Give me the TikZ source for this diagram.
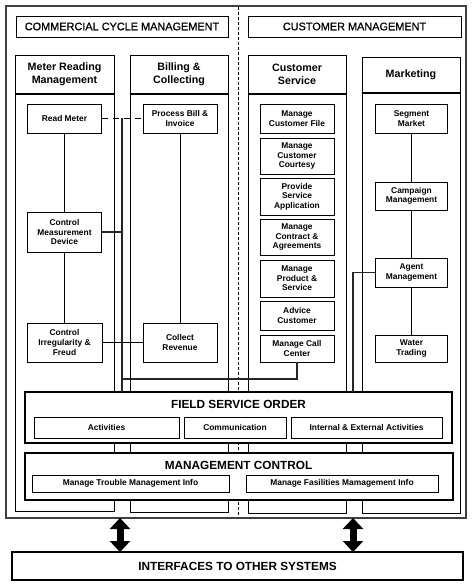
\documentclass[tikz,border=0pt]{standalone}
\usepackage{fontspec}
\setmainfont{Liberation Sans}
\newfontfamily\titlefont{Liberation Sans}[BoldFont={Liberation Sans}, BoldFeatures={FakeBold=0.8}]
\usetikzlibrary{arrows.meta}
\begin{document}
\begin{tikzpicture}[x=1pt,y=-1pt,
  every node/.style={inner sep=0pt, outer sep=0pt},
  sbox/.style={draw, line width=0.8pt, fill=white, align=center, font=\fontsize{8.4}{9.6}\selectfont\bfseries},
  colhead/.style={draw, line width=0.8pt, align=center, font=\fontsize{10.7}{13.3}\selectfont\bfseries},
  colbody/.style={draw, line width=0.8pt},
  titlebox/.style={draw, line width=0.8pt, font=\fontsize{10.9}{13}\titlefont\bfseries},
  bigbox/.style={draw, line width=1.8pt, fill=white},
  bigtitle/.style={font=\fontsize{11.8}{14}\selectfont\bfseries},
  link/.style={line width=0.8pt},
  dashlink/.style={line width=1.2pt, dash pattern=on 6pt off 5pt},
  bus/.style={line width=1.4pt, draw=black!85},
  sep/.style={line width=1.5pt},
  bigarrow/.style={line width=7pt, {Triangle[width=20pt,length=11pt]}-{Triangle[width=20pt,length=11pt]}}
]
\useasboundingbox (0,0) rectangle (474,588);
\fill[white] (0,0) rectangle (474,588);

% outer frame and divider
\node[draw=black!75, line width=2pt, minimum width=460pt, minimum height=512pt] (outer) at (236,262) {};
\coordinate (dtop) at (238,7);
\coordinate (dbot) at (238,517);
\draw[line width=0.7pt, dash pattern=on 3pt off 2pt] (dtop) -- (dbot);

% titles
\node[titlebox, minimum width=212pt, minimum height=21pt] (ccm) at (122,26.5) {COMMERCIAL CYCLE MANAGEMENT};
\node[titlebox, minimum width=213pt, minimum height=21pt] (cmg) at (354.5,26.5) {CUSTOMER MANAGEMENT};

% columns
\node[colbody, minimum width=99pt, minimum height=417pt] (mrB) at (64.5,302.5) {};
\node[colhead, minimum width=99pt, minimum height=39pt] (mrH) at (64.5,74.5) {Meter Reading\\Management};
\node[colbody, minimum width=98pt, minimum height=418pt] (bcB) at (179,303) {};
\node[colhead, minimum width=98pt, minimum height=39pt] (bcH) at (179,74.5) {Billing \&\\Collecting};
\node[colbody, minimum width=98pt, minimum height=419pt] (csB) at (297,303.5) {};
\node[colhead, minimum width=98pt, minimum height=39pt] (csH) at (297,74.5) {Customer\\Service};
\node[colbody, minimum width=98pt, minimum height=420pt] (mkB) at (411,303) {};
\node[colhead, minimum width=98pt, minimum height=36pt] (mkH) at (411,75) {Marketing};
\draw[sep] (mrH.south west) -- (mrH.south east);
\draw[sep] (bcH.south west) -- (bcH.south east);
\draw[sep] (csH.south west) -- (csH.south east);
\draw[sep] (mkH.south west) -- (mkH.south east);

% meter reading
\node[sbox, minimum width=74pt, minimum height=29pt] (rm) at (64.5,118.5) {Read Meter};
\node[sbox, minimum width=74pt, minimum height=40pt] (cmd) at (64.5,232) {Control\\Measurement\\Device};
\node[sbox, minimum width=75pt, minimum height=39pt] (cir) at (64.5,342.5) {Control\\Irregularity \&\\Freud};
% billing
\node[sbox, minimum width=74pt, minimum height=29pt] (pb) at (180,118.5) {Process Bill \&\\Invoice};
\node[sbox, minimum width=74pt, minimum height=39pt] (cr) at (180,342.5) {Collect\\Revenue};
% customer service
\node[sbox, minimum width=74pt, minimum height=29pt] (mcf) at (297,118.5) {Manage\\Customer File};
\node[sbox, minimum width=74pt, minimum height=36pt] (mcc) at (297,156) {Manage\\Customer\\Courtesy};
\node[sbox, minimum width=74pt, minimum height=37pt] (psa) at (297,196.5) {Provide\\Service\\Application};
\node[sbox, minimum width=74pt, minimum height=36pt] (mca) at (297,237) {Manage\\Contract \&\\Agreements};
\node[sbox, minimum width=74pt, minimum height=37pt] (mps) at (297,278.5) {Manage\\Product \&\\Service};
\node[sbox, minimum width=74pt, minimum height=29pt] (adv) at (297,315.5) {Advice\\Customer};
\node[sbox, minimum width=74pt, minimum height=27pt] (mcall) at (297,348.5) {Manage Call\\Center};
% marketing
\node[sbox, minimum width=72pt, minimum height=29pt] (sm) at (411.5,118.5) {Segment\\Market};
\node[sbox, minimum width=72pt, minimum height=28pt] (cm) at (411.5,196) {Campaign\\Management};
\node[sbox, minimum width=72pt, minimum height=29pt] (am) at (411.5,272.5) {Agent\\Management};
\node[sbox, minimum width=72pt, minimum height=27pt] (wt) at (411.5,348.5) {Water\\Trading};

% field service order
\node[bigbox, minimum width=427pt, minimum height=51pt] (fso) at (238.5,417.5) {};
\node[bigtitle] (fsoT) at (238.5,404) {FIELD SERVICE ORDER};
\node[sbox, minimum width=145pt, minimum height=21pt] (act) at (106.5,427.5) {Activities};
\node[sbox, minimum width=102pt, minimum height=21pt] (com) at (235,427.5) {Communication};
\node[sbox, minimum width=151pt, minimum height=21pt] (iea) at (366.5,427.5) {Internal \& External Activities};

% management control
\node[bigbox, minimum width=428pt, minimum height=47pt] (mc) at (239,476.5) {};
\node[bigtitle] (mcT) at (238.5,465) {MANAGEMENT CONTROL};
\node[sbox, minimum width=197pt, minimum height=17pt] (mtm) at (130.5,483.5) {Manage Trouble Management Info};
\node[sbox, minimum width=192pt, minimum height=17pt] (mfm) at (342,483.5) {Manage Fasilities Mamagement Info};

% connectors
\draw[link] (rm.south) -- (cmd.north);
\draw[link] (cmd.south) -- (cir.north);
\draw[link] (pb.south) -- (cr.north);
\draw[link] (cir.east) -- (cr.west);
\draw[dashlink] (rm.east) -- (pb.west);
\coordinate (busx) at (122,0);
\coordinate (busy) at (0,379);
\draw[bus] (rm.east -| busx) -- (fso.north -| busx);
\draw[bus] (cmd.east) -- (cmd.east -| busx);
\draw[bus] (busx |- busy) -| (mcall.south);
\draw[link] (sm.south) -- (cm.north);
\draw[link] (cm.south) -- (am.north);
\draw[link] (am.south) -- (wt.north);
\coordinate (mkx) at (353,0);
\draw[bus] (am.west) -| (fso.north -| mkx);

% interfaces
\node[bigbox, minimum width=451pt, minimum height=28pt, bigtitle] (ifc) at (237.5,566) {INTERFACES TO OTHER SYSTEMS};
\coordinate (ax1) at (120,0);
\coordinate (ax2) at (353,0);
\draw[bigarrow] (ax1 |- outer.south) -- (ax1 |- ifc.north);
\draw[bigarrow] (ax2 |- outer.south) -- (ax2 |- ifc.north);
\end{tikzpicture}
\end{document}
